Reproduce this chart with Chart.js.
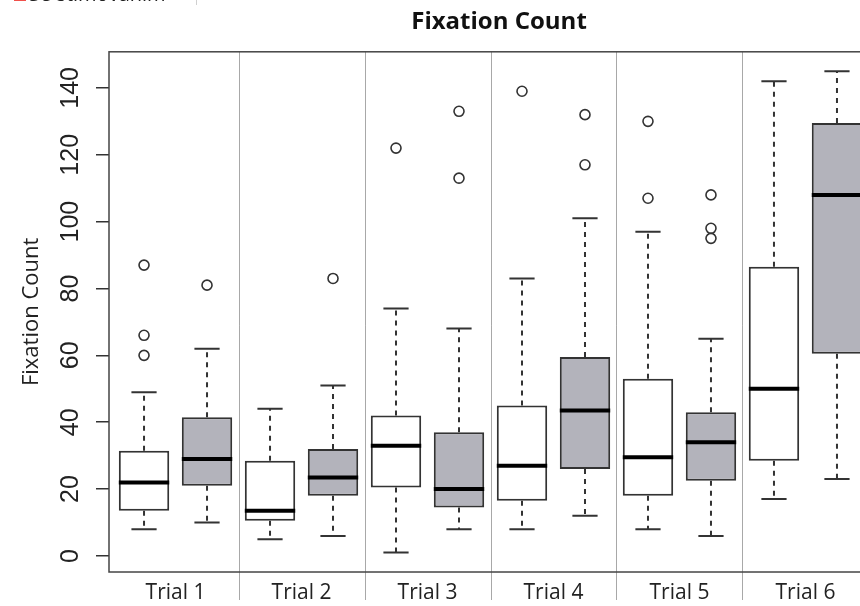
<!DOCTYPE html>
<html>
<head>
<meta charset="utf-8">
<script src="https://cdn.jsdelivr.net/npm/chart.js@4.4.1/dist/chart.umd.min.js"></script>
<style>
  html, body { margin: 0; padding: 0; background: #fff; overflow: hidden; }
  .wrap { position: relative; width: 998px; height: 606px; }
  .legend-cut {
    position: absolute; left: 0; top: -17px; width: 196px; height: 22px;
    border-right: 1px solid #d0d0d0; font: 20px 'Open Sans', sans-serif; color: #222;
    line-height: 22px; white-space: nowrap;
  }
  .legend-cut span { display: inline-block; width: 12px; height: 12px; background: #f0504a; margin: 0 3px 0 14px; }
</style>
</head>
<body>
<div class="wrap">
  <canvas id="boxChart"></canvas>
  <div class="legend-cut"><span></span>Se stimováním</div>
</div>
<script>
const trials = ['Trial 1', 'Trial 2', 'Trial 3', 'Trial 4', 'Trial 5', 'Trial 6'];
const yTicks = [0, 20, 40, 60, 80, 100, 120, 140];

// white boxes (first of each pair)
const whiteLow = [8, 5, 1, 8, 8, 17];
const whiteQ1 = [13.5, 10.5, 20.5, 16.5, 18, 28.5];
const whiteMed = [22, 13.5, 33, 27, 29.5, 50];
const whiteQ3 = [31.5, 28.5, 42, 45, 53, 86.5];
const whiteHigh = [49, 44, 74, 83, 97, 142];
const whiteOut = [[87, 66, 60], [], [122], [139], [130, 107], []];

// grey boxes (second of each pair)
const greyLow = [10, 6, 8, 12, 6, 23];
const greyQ1 = [21, 18, 14.5, 26, 22.5, 60.5];
const greyMed = [29, 23.5, 20, 43.5, 34, 108];
const greyQ3 = [41.5, 32, 37, 59.5, 43, 129.5];
const greyHigh = [62, 51, 68, 101, 65, 145];
const greyOut = [[81], [83], [133, 113], [132, 117], [108, 98, 95], []];

const COLORS = {
  white: '#ffffff',
  grey: '#b3b3bb',
  line: '#333333',
  sep: '#a8a8a8',
  text: '#222222',
};

Chart.defaults.font.family = "'Open Sans', sans-serif";
Chart.defaults.color = COLORS.text;

// x position of box k (0 = white, 1 = grey) in trial i
const boxX = (i, k) => 2 * i + 1 + k;

const groups = [
  { k: 0, low: whiteLow, q1: whiteQ1, med: whiteMed, q3: whiteQ3, high: whiteHigh, out: whiteOut, fill: COLORS.white },
  { k: 1, low: greyLow, q1: greyQ1, med: greyMed, q3: greyQ3, high: greyHigh, out: greyOut, fill: COLORS.grey },
];

const boxExtras = {
  id: 'boxExtras',
  beforeDatasetsDraw(chart) {
    const { ctx, chartArea, scales: { x, y } } = chart;
    ctx.save();
    // trial separators, running through the axis below
    ctx.strokeStyle = COLORS.sep;
    ctx.lineWidth = 1;
    for (let i = 1; i < trials.length; i++) {
      const px = Math.round(x.getPixelForValue(2 * i + 0.5)) + 0.5;
      ctx.beginPath();
      ctx.moveTo(px, chartArea.top);
      ctx.lineTo(px, chartArea.bottom + 28);
      ctx.stroke();
    }
    // whiskers and caps
    ctx.strokeStyle = COLORS.line;
    ctx.lineWidth = 2;
    groups.forEach((g) => {
      trials.forEach((t, i) => {
        const c = boxX(i, g.k);
        const px = x.getPixelForValue(c);
        const capL = x.getPixelForValue(c - 0.2);
        const capR = x.getPixelForValue(c + 0.2);
        ctx.setLineDash([5, 5]);
        ctx.beginPath();
        ctx.moveTo(px, y.getPixelForValue(g.q3[i]));
        ctx.lineTo(px, y.getPixelForValue(g.high[i]));
        ctx.moveTo(px, y.getPixelForValue(g.q1[i]));
        ctx.lineTo(px, y.getPixelForValue(g.low[i]));
        ctx.stroke();
        ctx.setLineDash([]);
        ctx.beginPath();
        ctx.moveTo(capL, y.getPixelForValue(g.high[i]));
        ctx.lineTo(capR, y.getPixelForValue(g.high[i]));
        ctx.moveTo(capL, y.getPixelForValue(g.low[i]));
        ctx.lineTo(capR, y.getPixelForValue(g.low[i]));
        ctx.stroke();
      });
    });
    ctx.restore();
  },
  afterDatasetsDraw(chart) {
    const { ctx, chartArea, scales: { x, y } } = chart;
    ctx.save();
    // medians
    ctx.strokeStyle = '#000';
    ctx.lineWidth = 4;
    groups.forEach((g) => {
      trials.forEach((t, i) => {
        const c = boxX(i, g.k);
        const py = y.getPixelForValue(g.med[i]);
        ctx.beginPath();
        ctx.moveTo(x.getPixelForValue(c - 0.4), py);
        ctx.lineTo(x.getPixelForValue(c + 0.4), py);
        ctx.stroke();
      });
    });
    // plot frame
    ctx.strokeStyle = '#444';
    ctx.lineWidth = 1.5;
    ctx.strokeRect(chartArea.left, chartArea.top, chartArea.right - chartArea.left, chartArea.bottom - chartArea.top);
    ctx.restore();
  },
};

const boxDatasets = groups.map((g) => ({
  type: 'bar',
  label: g.k === 0 ? 'Bez stimulace' : 'Se stimováním',
  data: trials.map((t, i) => ({ x: boxX(i, g.k), y: [g.q1[i], g.q3[i]] })),
  backgroundColor: g.fill,
  borderColor: COLORS.line,
  borderWidth: 2,
  borderSkipped: false,
  grouped: false,
  categoryPercentage: 1,
  barPercentage: 0.8,
}));

const outlierDataset = {
  type: 'scatter',
  label: 'Outliers',
  data: groups.flatMap((g) => trials.flatMap((t, i) => g.out[i].map((v) => ({ x: boxX(i, g.k), y: v })))),
  pointRadius: 5,
  pointBorderWidth: 1.6,
  borderColor: COLORS.line,
  backgroundColor: 'rgba(255,255,255,0)',
};

new Chart(document.getElementById('boxChart'), {
  type: 'bar',
  data: { datasets: [...boxDatasets, outlierDataset] },
  plugins: [boxExtras],
  options: {
    responsive: true,
    maintainAspectRatio: false,
    animation: false,
    layout: { padding: 0 },
    plugins: {
      legend: { display: false },
      tooltip: { enabled: false },
      title: {
        display: true,
        text: 'Fixation Count',
        color: '#111',
        font: { size: 24, weight: 'bold' },
        padding: { top: 8, bottom: 15 },
      },
    },
    scales: {
      x: {
        type: 'linear',
        offset: false,
        min: 0.444,
        max: 12.556,
        grid: { display: false },
        border: { display: false },
        afterBuildTicks: (scale) => {
          scale.ticks = trials.map((t, i) => ({ value: 2 * i + 1.5 }));
        },
        afterFit: (scale) => { scale.height = 34; },
        ticks: {
          autoSkip: false,
          maxRotation: 0,
          padding: 0,
          color: COLORS.text,
          font: { size: 21 },
          callback: (val, idx) => trials[idx],
        },
      },
      y: {
        min: -4.8,
        max: 150.8,
        border: { display: false },
        grid: { drawOnChartArea: false, drawTicks: true, tickLength: 13, color: COLORS.line, lineWidth: 1.5 },
        afterBuildTicks: (scale) => {
          scale.ticks = yTicks.map((v) => ({ value: v }));
        },
        afterFit: (scale) => { scale.width = 109; },
        ticks: {
          minRotation: 90,
          maxRotation: 90,
          crossAlign: 'center',
          padding: 4,
          color: COLORS.text,
          font: { family: "'Liberation Sans', Arial, sans-serif", size: 25 },
        },
        title: {
          display: true,
          text: 'Fixation Count',
          color: COLORS.text,
          font: { size: 22 },
          padding: { top: 19, bottom: 0 },
        },
      },
      // empty right margin: the plot runs past the visible window
      yRight: {
        position: 'right',
        display: true,
        grid: { display: false },
        border: { display: false },
        ticks: { display: false },
        afterFit: (scale) => { scale.width = 126; },
      },
    },
  },
});
</script>
</body>
</html>
